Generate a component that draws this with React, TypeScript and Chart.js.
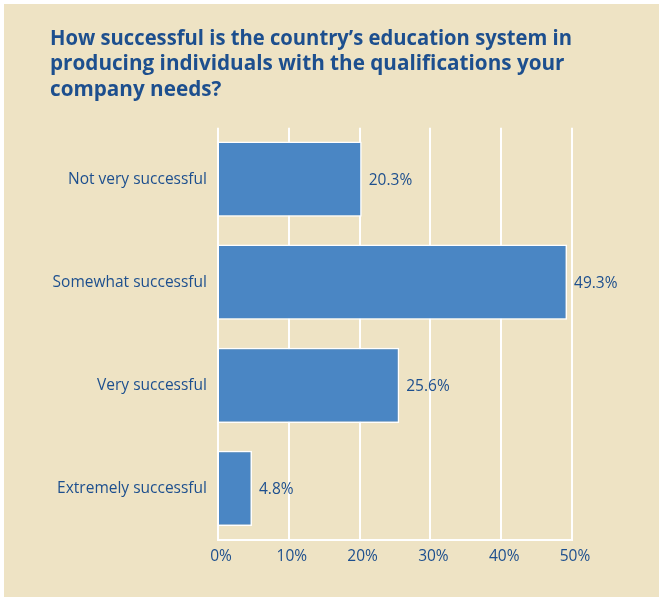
import React, { useEffect, useRef } from "react";
import { Chart, registerables } from "chart.js";

Chart.register(...registerables);

const TITLE_LINES = [
  "How successful is the country\u2019s education system in",
  "producing individuals with the qualifications your",
  "company needs?",
];
const CATEGORIES = [
  "Not very successful",
  "Somewhat successful",
  "Very successful",
  "Extremely successful",
];
const VALUES = [20.3, 49.3, 25.6, 4.8];
const TICK_VALUES = [0, 10, 20, 30, 40, 50];

const PANEL_BG = "#EEE3C4";
const BAR_COLOR = "#4A86C4";
const TEXT_BLUE = "#1D4F8E";
const FONT = "'Open Sans', 'Noto Sans', sans-serif";

// Writes the percentage just past the end of each bar.
const valueLabels = {
  id: "valueLabels",
  afterDatasetsDraw(chart: any) {
    const { ctx } = chart;
    const meta = chart.getDatasetMeta(0);
    ctx.save();
    ctx.font = `15.5px ${FONT}`;
    ctx.fillStyle = TEXT_BLUE;
    ctx.textAlign = "left";
    ctx.textBaseline = "middle";
    meta.data.forEach((bar: any, i: number) => {
      ctx.fillText(`${VALUES[i].toFixed(1)}%`, bar.x + 7, bar.y + 1);
    });
    ctx.restore();
  },
};

export default function App() {
  const canvasRef = useRef<HTMLCanvasElement | null>(null);

  useEffect(() => {
    if (!canvasRef.current) return;
    const chart = new Chart(canvasRef.current, {
      type: "bar",
      data: {
        labels: CATEGORIES,
        datasets: [
          {
            data: VALUES,
            backgroundColor: BAR_COLOR,
            borderColor: "#FFFFFF",
            borderWidth: 1.5,
            barPercentage: 0.73,
            categoryPercentage: 1,
          },
        ],
      },
      options: {
        indexAxis: "y",
        animation: false,
        responsive: false,
        maintainAspectRatio: false,
        layout: { padding: { left: 46, right: 87, top: 10, bottom: 24.5 } },
        plugins: {
          legend: { display: false },
          tooltip: { enabled: false },
          title: {
            display: true,
            text: TITLE_LINES,
            align: "start",
            color: TEXT_BLUE,
            font: { family: FONT, size: 20.7, weight: "bold", lineHeight: 1.21 },
            padding: { top: 13, bottom: 25.5 },
          },
        },
        scales: {
          x: {
            type: "linear",
            min: 0,
            max: 50,
            afterBuildTicks(scale: any) {
              scale.ticks = TICK_VALUES.map((v) => ({ value: v }));
            },
            grid: {
              color: "#FFFFFF",
              lineWidth: 2,
              drawTicks: false,
            },
            border: { display: true, color: "#FFFFFF", width: 2 },
            ticks: {
              color: TEXT_BLUE,
              font: { family: FONT, size: 15.5 },
              padding: 7,
              labelOffset: 3,
              maxRotation: 0,
              callback: (v: any) => `${v}%`,
            },
          },
          y: {
            grid: { display: false, drawTicks: false },
            border: { display: false },
            afterFit(scale: any) {
              scale.width = 168;
            },
            ticks: {
              color: TEXT_BLUE,
              font: { family: FONT, size: 15.5 },
              padding: 11,
            },
          },
        },
      },
      plugins: [valueLabels],
    });
    return () => chart.destroy();
  }, []);

  return (
    <div
      style={{
        position: "absolute",
        left: 4,
        top: 4,
        width: 655,
        height: 593,
        background: PANEL_BG,
      }}
    >
      <canvas ref={canvasRef} width={655} height={593} style={{ display: "block" }} />
    </div>
  );
}
